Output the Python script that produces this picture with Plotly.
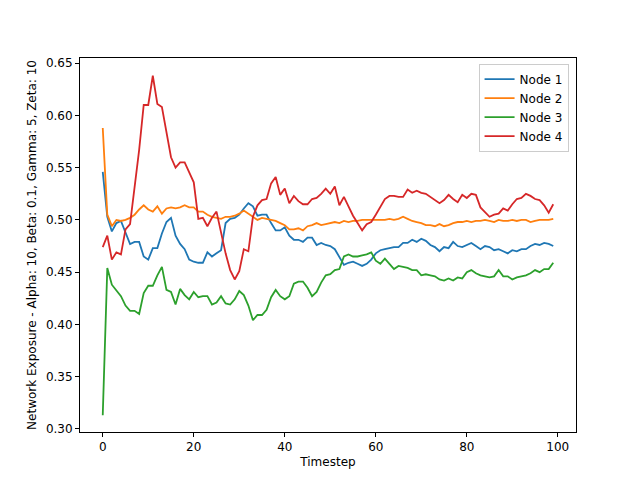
import plotly.graph_objects as go

timesteps = list(range(100))

node1 = [0.546, 0.503, 0.489, 0.497, 0.499, 0.488, 0.477, 0.479, 0.479, 0.465,
         0.462, 0.473, 0.473, 0.487, 0.498, 0.502, 0.485, 0.477, 0.472, 0.462,
         0.460, 0.459, 0.459, 0.469, 0.465, 0.468, 0.471, 0.497, 0.501, 0.502,
         0.505, 0.511, 0.516, 0.513, 0.504, 0.505, 0.505, 0.497, 0.490, 0.490,
         0.493, 0.485, 0.481, 0.481, 0.479, 0.483, 0.483, 0.476, 0.478, 0.476,
         0.475, 0.472, 0.465, 0.457, 0.459, 0.460, 0.458, 0.456, 0.458, 0.462,
         0.468, 0.471, 0.472, 0.473, 0.474, 0.474, 0.478, 0.478, 0.481, 0.479,
         0.482, 0.480, 0.476, 0.474, 0.470, 0.474, 0.473, 0.479, 0.475, 0.474,
         0.476, 0.478, 0.475, 0.472, 0.475, 0.474, 0.471, 0.472, 0.470, 0.468,
         0.471, 0.470, 0.472, 0.472, 0.475, 0.477, 0.476, 0.478, 0.477, 0.475]

node2 = [0.588, 0.505, 0.494, 0.500, 0.499, 0.500, 0.502, 0.505, 0.510, 0.514,
         0.510, 0.508, 0.513, 0.506, 0.511, 0.512, 0.511, 0.512, 0.514, 0.512,
         0.512, 0.508, 0.508, 0.505, 0.503, 0.502, 0.501, 0.503, 0.503, 0.504,
         0.506, 0.509, 0.506, 0.503, 0.500, 0.502, 0.501, 0.500, 0.499, 0.497,
         0.495, 0.491, 0.491, 0.492, 0.490, 0.494, 0.495, 0.497, 0.495, 0.496,
         0.497, 0.498, 0.497, 0.499, 0.498, 0.499, 0.499, 0.500, 0.500, 0.500,
         0.500, 0.500, 0.500, 0.501, 0.500, 0.501, 0.503, 0.501, 0.499, 0.498,
         0.497, 0.495, 0.495, 0.494, 0.496, 0.494, 0.495, 0.497, 0.498, 0.498,
         0.499, 0.498, 0.499, 0.499, 0.500, 0.499, 0.498, 0.500, 0.499, 0.499,
         0.500, 0.499, 0.500, 0.500, 0.498, 0.499, 0.500, 0.500, 0.500, 0.501]

node3 = [0.313, 0.454, 0.438, 0.432, 0.427, 0.418, 0.413, 0.413, 0.410, 0.430,
         0.437, 0.437, 0.447, 0.455, 0.433, 0.431, 0.419, 0.434, 0.428, 0.424,
         0.431, 0.426, 0.427, 0.427, 0.419, 0.421, 0.427, 0.420, 0.419, 0.424,
         0.432, 0.428, 0.418, 0.404, 0.409, 0.409, 0.414, 0.426, 0.433, 0.427,
         0.424, 0.427, 0.439, 0.441, 0.441, 0.435, 0.427, 0.431, 0.440, 0.447,
         0.448, 0.452, 0.453, 0.465, 0.467, 0.465, 0.465, 0.466, 0.467, 0.469,
         0.461, 0.458, 0.463, 0.458, 0.453, 0.456, 0.455, 0.454, 0.452, 0.452,
         0.447, 0.448, 0.447, 0.446, 0.443, 0.442, 0.444, 0.442, 0.445, 0.444,
         0.450, 0.452, 0.449, 0.447, 0.446, 0.445, 0.446, 0.452, 0.446, 0.446,
         0.443, 0.445, 0.446, 0.447, 0.449, 0.452, 0.450, 0.453, 0.453, 0.459]

node4 = [0.474, 0.485, 0.462, 0.469, 0.467, 0.491, 0.496, 0.530, 0.567, 0.610,
         0.610, 0.638, 0.611, 0.608, 0.583, 0.560, 0.550, 0.555, 0.555, 0.546,
         0.536, 0.501, 0.502, 0.494, 0.502, 0.508, 0.487, 0.468, 0.452, 0.443,
         0.451, 0.472, 0.470, 0.503, 0.514, 0.519, 0.520, 0.535, 0.541, 0.524,
         0.530, 0.516, 0.523, 0.518, 0.515, 0.515, 0.520, 0.521, 0.525, 0.530,
         0.525, 0.532, 0.514, 0.522, 0.513, 0.504, 0.497, 0.490, 0.496, 0.498,
         0.505, 0.513, 0.520, 0.523, 0.523, 0.522, 0.522, 0.529, 0.526, 0.528,
         0.526, 0.525, 0.522, 0.519, 0.516, 0.519, 0.524, 0.520, 0.517, 0.524,
         0.521, 0.525, 0.524, 0.512, 0.507, 0.503, 0.505, 0.506, 0.511, 0.509,
         0.515, 0.520, 0.521, 0.525, 0.523, 0.520, 0.519, 0.514, 0.507, 0.515]

series = [("Node 1", node1, "#1f77b4"), ("Node 2", node2, "#ff7f0e"),
          ("Node 3", node3, "#2ca02c"), ("Node 4", node4, "#d62728")]

fig = go.Figure()
for name, vals, color in series:
    fig.add_trace(go.Scatter(x=timesteps, y=vals, mode="lines", name=name,
                             line=dict(color=color, width=1.8)))

axis_style = dict(showgrid=False, zeroline=False, showline=True, mirror=True,
                  linecolor="black", linewidth=1, ticks="outside", ticklen=4,
                  tickcolor="black", tickfont=dict(size=12, color="black"))

fig.update_layout(
    width=640, height=480,
    paper_bgcolor="white", plot_bgcolor="white",
    font=dict(family="DejaVu Sans", size=12, color="black"),
    margin=dict(l=72, r=72, t=50, b=56),
    xaxis=dict(title=dict(text="Timestep", standoff=4, font=dict(size=12)),
               range=[-5, 104], tickvals=[0, 20, 40, 60, 80, 100], **axis_style),
    yaxis=dict(title=dict(text="Network Exposure - Alpha: 10, Beta: 0.1, Gamma: 5, Zeta: 10",
                          standoff=6, font=dict(size=12)),
               range=[0.297, 0.655], tickformat=".2f",
               tickvals=[0.30, 0.35, 0.40, 0.45, 0.50, 0.55, 0.60, 0.65], **axis_style),
    legend=dict(x=0.985, y=0.985, xanchor="right", yanchor="top",
                bordercolor="#cccccc", borderwidth=1, bgcolor="white",
                font=dict(size=12)),
)

fig.write_html("out.html")
